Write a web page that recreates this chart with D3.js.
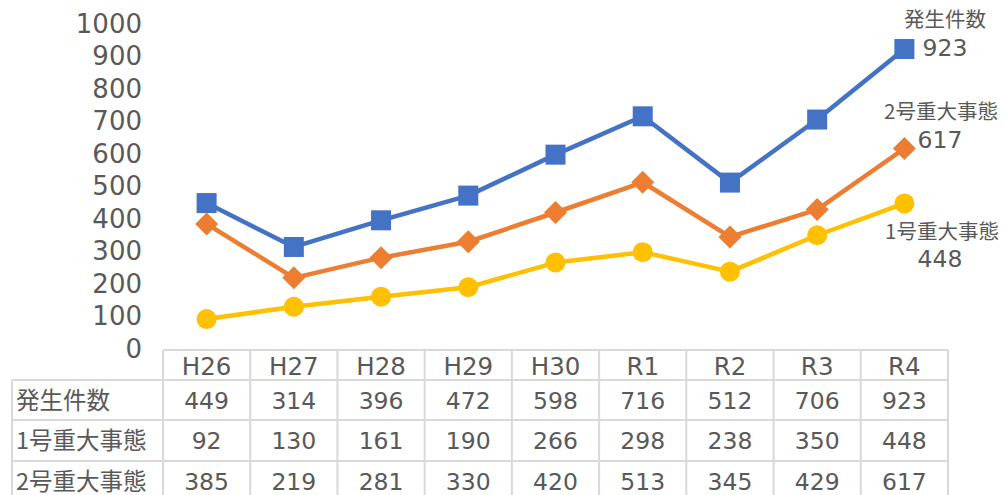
<!DOCTYPE html>
<html><head><meta charset="utf-8">
<script src="https://cdn.jsdelivr.net/npm/d3@7"></script>
<style>html,body{margin:0;padding:0;background:#fff;}svg{display:block;}</style>
</head><body>
<script>
const categories = ["H26","H27","H28","H29","H30","R1","R2","R3","R4"];
const seriesNames = ["発生件数","1号重大事態","2号重大事態"];
const total = [449,314,396,472,598,716,512,706,923];
const type1 = [92,130,161,190,266,298,238,350,448];
const type2 = [385,219,281,330,420,513,345,429,617];
const yTicks = [0,100,200,300,400,500,600,700,800,900,1000];

const W = 1003, H = 495;
const font = "'DejaVu Sans', 'Noto Sans CJK JP', sans-serif";
const cjk = "'Noto Sans CJK JP', sans-serif";
const textColor = "#595959";
const gridColor = "#d9d9d9";

const svg = d3.select("body").append("svg").attr("width", W).attr("height", H);

const tableLeft = 163, tableRight = 948, labelLeft = 12;
const x = d3.scaleBand().domain(categories).range([tableLeft, tableRight]).paddingInner(0).paddingOuter(0);
const y = d3.scaleLinear().domain([0, 1000]).range([349, 24]);

// y-axis labels
const yAxis = d3.axisLeft(y).tickValues(yTicks).tickSize(0).tickPadding(0).tickFormat(d3.format("d"));
const ya = svg.append("g").attr("transform", "translate(142,0)").call(yAxis);
ya.select(".domain").remove();
ya.selectAll("text").attr("font-family", font).attr("font-size", 26).attr("fill", textColor);

// table
const rowTops = [350, 380, 420, 461, 502];
const tg = svg.append("g");
tg.append("line").attr("x1", tableLeft).attr("x2", tableRight).attr("y1", rowTops[0]).attr("y2", rowTops[0]);
for (let i = 1; i < rowTops.length; i++) {
  tg.append("line").attr("x1", labelLeft).attr("x2", tableRight).attr("y1", rowTops[i]).attr("y2", rowTops[i]);
}
const colEdges = categories.map(c => x(c)).concat([tableRight]);
colEdges.forEach(cx => {
  tg.append("line").attr("x1", cx).attr("x2", cx).attr("y1", rowTops[0]).attr("y2", H);
});
tg.append("line").attr("x1", labelLeft).attr("x2", labelLeft).attr("y1", rowTops[1]).attr("y2", H);
tg.selectAll("line").attr("stroke", gridColor).attr("stroke-width", 2);

// header text via bottom axis
const xAxis = d3.axisBottom(x).tickSize(0).tickPadding(0);
const xa = svg.append("g").attr("transform", "translate(0,366)").call(xAxis);
xa.select(".domain").remove();
xa.selectAll("text").attr("dy", "0.35em").attr("font-family", font).attr("font-size", 24.5).attr("fill", textColor);

const rows = [total, type1, type2];
const rowY = [401, 441, 482];
rows.forEach((vals, r) => {
  svg.append("text").attr("x", 16).attr("y", rowY[r]).attr("dy", "0.35em")
    .attr("font-family", cjk).attr("font-size", 23.5).attr("fill", textColor).text(seriesNames[r]);
  svg.selectAll(null).data(vals).enter().append("text")
    .attr("x", (d, i) => x(categories[i]) + x.bandwidth() / 2)
    .attr("y", rowY[r]).attr("dy", "0.35em").attr("text-anchor", "middle")
    .attr("font-family", font).attr("font-size", 23.5).attr("fill", textColor).text(d => d);
});

// lines
const cx = i => x(categories[i]) + x.bandwidth() / 2;
const line = d3.line().x((d, i) => cx(i)).y(d => y(d));
const series = [
  {vals: total, color: "#4472c4", marker: "square"},
  {vals: type2, color: "#ed7d31", marker: "diamond"},
  {vals: type1, color: "#ffc000", marker: "circle"}
];
series.forEach(s => {
  svg.append("path").datum(s.vals).attr("d", line).attr("fill", "none")
    .attr("stroke", s.color).attr("stroke-width", 4.5).attr("stroke-linejoin", "round");
});
series.forEach(s => {
  const g = svg.append("g");
  s.vals.forEach((v, i) => {
    if (s.marker === "square") {
      g.append("rect").attr("x", cx(i) - 10).attr("y", y(v) - 10).attr("width", 20).attr("height", 20).attr("fill", s.color);
    } else if (s.marker === "diamond") {
      const r = 11.5;
      g.append("path").attr("d", `M${cx(i)},${y(v)-r}L${cx(i)+r},${y(v)}L${cx(i)},${y(v)+r}L${cx(i)-r},${y(v)}Z`).attr("fill", s.color);
    } else {
      g.append("circle").attr("cx", cx(i)).attr("cy", y(v)).attr("r", 10).attr("fill", s.color);
    }
  });
});

// data labels at last point
const last = categories.length - 1;
const labels = [
  {name: seriesNames[0], val: total[last], nx: 945, ny: 20, vx: 945, vy: 48},
  {name: seriesNames[2], val: type2[last], nx: 941, ny: 112, vx: 940, vy: 140},
  {name: seriesNames[1], val: type1[last], nx: 942, ny: 232, vx: 940, vy: 259}
];
labels.forEach(l => {
  svg.append("text").attr("x", l.nx).attr("y", l.ny).attr("dy", "0.35em").attr("text-anchor", "middle")
    .attr("font-family", cjk).attr("font-size", 20.5).attr("fill", textColor).text(l.name);
  svg.append("text").attr("x", l.vx).attr("y", l.vy).attr("dy", "0.35em").attr("text-anchor", "middle")
    .attr("font-family", font).attr("font-size", 23.5).attr("fill", textColor).text(l.val);
});
</script>
</body></html>
